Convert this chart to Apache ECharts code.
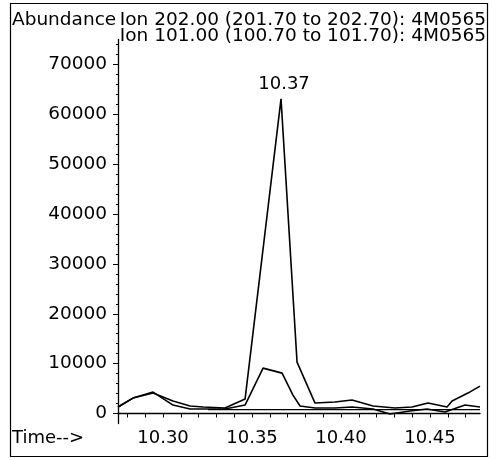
<!DOCTYPE html>
<html>
<head>
<meta charset="utf-8">
<script src="https://cdn.jsdelivr.net/npm/echarts@6/dist/echarts.min.js"></script>
<style>
	html, body { margin: 0; padding: 0; background: #fff; }
	#main { width: 500px; height: 460px; }
</style>
</head>
<body>
<div id="main"></div>
<script>
	// 数据 (time in min, abundance)
	var ion202Time = [ 10.2747, 10.2831, 10.2944, 10.3056, 10.3152, 10.3225, 10.3348, 10.3461, 10.3663, 10.3753, 10.3854,
		10.3966, 10.4062, 10.4180, 10.4303, 10.4399, 10.4489, 10.4596, 10.4624, 10.4713, 10.4781 ];
	var ion202Abund = [ 1300, 3100, 4100, 2500, 1500, 1300, 1100, 2900, 63100, 10300, 2100,
		2300, 2700, 1500, 1100, 1300, 2100, 1300, 2500, 4100, 5500 ];

	var ion101Time = [ 10.2747, 10.2831, 10.2944, 10.3056, 10.3152, 10.3348, 10.3461, 10.3562, 10.3669, 10.3730, 10.3770,
		10.3854, 10.3966, 10.4062, 10.4180, 10.4275, 10.4388, 10.4483, 10.4584, 10.4697, 10.4781 ];
	var ion101Abund = [ 1300, 3100, 4300, 1700, 900, 900, 1700, 9100, 8100, 3700, 1500,
		1100, 1100, 1300, 900, -100, 500, 900, 300, 1700, 1300 ];

	var baseTime = [ 10.3253, 10.4781 ];
	var baseAbund = [ 800, 800 ];

	var xLabels = [ 10.30, 10.35, 10.40, 10.45 ];
	var xTicks = [ 10.28, 10.29, 10.30, 10.31, 10.32, 10.33, 10.34, 10.35, 10.36, 10.37, 10.38, 10.39, 10.40, 10.41, 10.42, 10.43, 10.44, 10.45, 10.46, 10.47 ];
	var yLabels = [ 0, 10000, 20000, 30000, 40000, 50000, 60000, 70000 ];
	var yMinor = [ 0, 2000, 4000, 6000, 8000, 12000, 14000, 16000, 18000, 22000, 24000, 26000, 28000, 32000, 34000, 36000, 38000,
		42000, 44000, 46000, 48000, 52000, 54000, 56000, 58000, 62000, 64000, 66000, 68000, 72000, 74000 ];

	var title1 = 'Ion 202.00 (201.70 to 202.70): 4M0565';
	var title2 = 'Ion 101.00 (100.70 to 101.70): 4M0565';

	function pairs(t, v) {
		var out = [];
		for (var i = 0; i < t.length; i++) {
			out.push([ t[i], v[i] ]);
		}
		return out;
	}

	// peak of ion 202
	var peakIdx = 0;
	for (var i = 1; i < ion202Abund.length; i++) {
		if (ion202Abund[i] > ion202Abund[peakIdx]) peakIdx = i;
	}

	var FONT = 'DejaVu Sans';
	var lineStyle = { color : '#000', width : 1.6 };

	var myChart = echarts.init(document.getElementById('main'));
	var option = {
		animation : false,
		backgroundColor : '#fff',
		textStyle : { fontFamily : FONT, color : '#000' },
		grid : { left : 118, right : 20, top : 39.5, bottom : 36.5 },
		xAxis : {
			type : 'value',
			min : 10.2747,
			max : 10.4781,
			axisLine : { lineStyle : { color : '#000', width : 1.3 } },
			axisTick : { customValues : xTicks, length : 4, lineStyle : { color : '#000' } },
			axisLabel : {
				customValues : xLabels,
				margin : 6,
				fontSize : 18,
				color : '#000',
				fontFamily : FONT,
				formatter : function(v) { return v.toFixed(2); }
			},
			splitLine : { show : false }
		},
		yAxis : [ {
			type : 'value',
			min : -2000,
			max : 75000,
			axisLine : { show : true, lineStyle : { color : '#000', width : 1.3 } },
			axisTick : { customValues : yLabels, length : 5, lineStyle : { color : '#000' } },
			axisLabel : {
				customValues : yLabels,
				margin : 11,
				fontSize : 18.5,
				color : '#000',
				fontFamily : FONT,
				formatter : function(v) { return String(v); }
			},
			splitLine : { show : false }
		}, {
			// 小刻度
			type : 'value',
			position : 'left',
			min : -2000,
			max : 75000,
			axisLine : { show : false },
			axisTick : { customValues : yMinor, length : 2, lineStyle : { color : '#000' } },
			axisLabel : { show : false },
			splitLine : { show : false }
		} ],
		graphic : [ {
			type : 'rect',
			shape : { x : 10.5, y : 3.5, width : 477, height : 453 },
			style : { fill : 'none', stroke : '#000', lineWidth : 1.2 }
		}, {
			type : 'text',
			left : 12, top : 11,
			style : { text : 'Abundance', font : '18.5px "DejaVu Sans"', fill : '#000' }
		}, {
			type : 'text',
			right : 14, top : 11,
			style : { text : title1, font : '18.5px "DejaVu Sans"', fill : '#000' }
		}, {
			type : 'text',
			right : 14, top : 27,
			style : { text : title2, font : '18.5px "DejaVu Sans"', fill : '#000' }
		}, {
			type : 'text',
			left : 12, top : 429,
			style : { text : 'Time-->', font : '18px "DejaVu Sans"', fill : '#000' }
		} ],
		series : [ {
			name : 'Ion 202.00',
			type : 'line',
			showSymbol : false,
			lineStyle : lineStyle,
			data : pairs(ion202Time, ion202Abund),
			markPoint : {
				symbol : 'circle',
				symbolSize : 0,
				label : {
					show : true,
					position : 'top',
					distance : 6,
					offset : [ 3, 0 ],
					fontSize : 18,
					fontFamily : FONT,
					color : '#000',
					formatter : function() { return ion202Time[peakIdx].toFixed(2); }
				},
				data : [ { coord : [ ion202Time[peakIdx], ion202Abund[peakIdx] ] } ]
			}
		}, {
			name : 'Ion 101.00',
			type : 'line',
			showSymbol : false,
			lineStyle : lineStyle,
			data : pairs(ion101Time, ion101Abund)
		}, {
			name : 'baseline',
			type : 'line',
			showSymbol : false,
			lineStyle : { color : '#000', width : 1.2 },
			data : pairs(baseTime, baseAbund)
		} ]
	};

	// 使用刚指定的配置项和数据显示图表。
	myChart.setOption(option);
</script>
</body>
</html>
